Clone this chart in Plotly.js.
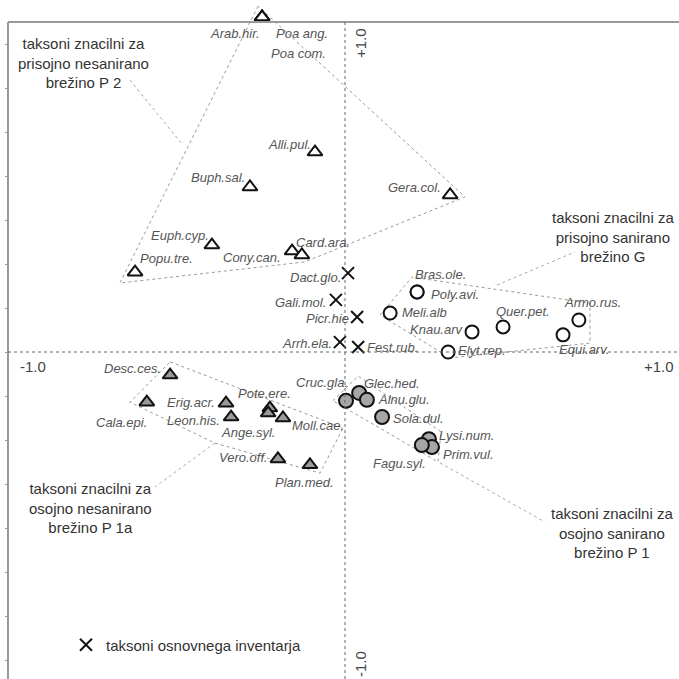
<!DOCTYPE html>
<html>
<head>
<meta charset="utf-8">
<script src="https://cdn.plot.ly/plotly-3.0.1.min.js"></script>
<style>html,body{margin:0;padding:0;background:#fff;}#chart{width:679px;height:679px;}</style>
</head>
<body>
<div id="chart"></div>
<script>
// ---- data: ordination scores (axis 1, axis 2) ----
const p2Names = ['Arab.hir.','Poa ang.','Poa com.','Alli.pul.','Buph.sal.','Gera.col.','Euph.cyp.','Cony.can.','Card.ara.','Popu.tre.'];
const p2X = [-0.246,-0.246,-0.246,-0.089,-0.282,0.312,-0.395,-0.157,-0.128,-0.623];
const p2Y = [1.015,1.015,1.015,0.606,0.500,0.476,0.324,0.306,0.294,0.242];

const baseNames = ['Dact.glo.','Gali.mol.','Picr.hie','Arrh.ela.','Fest.rub.'];
const baseX = [0.009,-0.027,0.036,-0.015,0.039];
const baseY = [0.239,0.158,0.106,0.030,0.015];

const gNames = ['Bras.ole.','Poly.avi.','Meli.alb','Knau.arv','Quer.pet.','Armo.rus.','Equi.arv.','Elyt.rep.'];
const gX = [0.214,0.214,0.134,0.377,0.469,0.694,0.647,0.306];
const gY = [0.182,0.182,0.118,0.061,0.076,0.097,0.052,0.000];

const p1Names = ['Glec.hed.','Alnu.glu.','Cruc.gla.','Sola.dul.','Lysi.num.','Prim.vul.','Fagu.syl.'];
const p1X = [0.042,0.065,0.003,0.110,0.249,0.258,0.228];
const p1Y = [-0.124,-0.145,-0.148,-0.197,-0.264,-0.288,-0.282];

const p1aNames = ['Desc.ces.','Cala.epi.','Erig.acr.','Leon.his.','Pote.ere.','Ange.syl.','Moll.cae.','Vero.off.','Plan.med.'];
const p1aX = [-0.519,-0.588,-0.353,-0.338,-0.223,-0.228,-0.184,-0.199,-0.104];
const p1aY = [-0.070,-0.152,-0.155,-0.197,-0.170,-0.185,-0.200,-0.324,-0.342];

// group envelopes (hand-drawn hulls)
const hullP2X = [-0.258,-0.668,-0.119,0.356,-0.258];
const hullP2Y = [1.048,0.209,0.273,0.470,1.048];
const hullGX = [0.104,0.199,0.727,0.727,0.312,0.104];
const hullGY = [0.112,0.227,0.148,0.027,-0.018,0.112];
const hullP1X = [-0.036,0.039,0.285,0.276,-0.036];
const hullP1Y = [-0.148,-0.073,-0.242,-0.333,-0.148];
const hullP1aX = [-0.519,-0.006,-0.074,-0.386,-0.638,-0.519];
const hullP1aY = [-0.030,-0.230,-0.367,-0.276,-0.152,-0.030];

// leader lines from envelopes to group captions
const leaderX = [[-0.638,-0.481],[0.451,0.682],[0.282,0.593],[-0.386,-0.564]];
const leaderY = [[0.824,0.627],[0.203,0.303],[-0.336,-0.515],[-0.276,-0.409]];

// captions
const capP2 = ['taksoni znacilni za','prisojno nesanirano','brežino P 2'];
const capG = ['taksoni znacilni za','prisojno sanirano','brežino G'];
const capP1 = ['taksoni znacilni za','osojno sanirano','brežino P 1'];
const capP1a = ['taksoni znacilni za','osojno nesanirano','brežino P 1a'];
const legendText = 'taksoni osnovnega inventarja';
const axisLabels = ['-1.0','+1.0'];

// ---- label placement (pixel offsets: dx right, dy down) ----
const labelOffsets = {
  'Arab.hir.':[-27,16],'Poa ang.':[40,16],'Poa com.':[36,36],'Alli.pul.':[-26,-8],'Buph.sal.':[-32,-10],
  'Gera.col.':[-36,-7],'Euph.cyp.':[-32,-10],'Cony.can.':[-40,6],'Card.ara.':[21,-12],'Popu.tre.':[31,-14],
  'Dact.glo.':[-33,4],'Gali.mol.':[-35,3],'Picr.hie':[-30,1],'Arrh.ela.':[-33,1],'Fest.rub.':[34,0],
  'Bras.ole.':[23,-17],'Poly.avi.':[38,3],'Meli.alb':[34,-1],'Knau.arv':[-35,-2],'Quer.pet.':[20,-15],
  'Armo.rus.':[14,-18],'Equi.arv.':[21,15],'Elyt.rep.':[34,-2],
  'Cruc.gla.':[-24,-18],'Glec.hed.':[33,-9],'Alnu.glu.':[37,0],'Sola.dul.':[36,1],'Lysi.num.':[38,-4],
  'Prim.vul.':[37,7],'Fagu.syl.':[-22,18],
  'Desc.ces.':[-38,-7],'Cala.epi.':[-25,20],'Erig.acr.':[-35,-1],'Leon.his.':[-38,3],'Pote.ere.':[-5,-15],
  'Ange.syl.':[-20,19],'Moll.cae.':[35,7],'Vero.off.':[-34,-1],'Plan.med.':[-5,18]
};

const XR = [-1.0237, 0.9911];
const YR = [-0.9909, 1.0667];
const FONT = 'Liberation Sans, Arial, sans-serif';

const traces = [];
function hull(x, y) {
  traces.push({x:x, y:y, type:'scatter', mode:'lines', showlegend:false, hoverinfo:'skip',
    line:{color:'#9a9a9a', width:1, dash:'dot'}});
}
hull(hullP2X, hullP2Y); hull(hullGX, hullGY); hull(hullP1X, hullP1Y); hull(hullP1aX, hullP1aY);
for (let i = 0; i < leaderX.length; i++) {
  traces.push({x:leaderX[i], y:leaderY[i], type:'scatter', mode:'lines', showlegend:false, hoverinfo:'skip',
    line:{color:'#aaaaaa', width:1, dash:'3px,3px'}});
}
function pts(x, y, symbol, size, fill, name, legend) {
  traces.push({x:x, y:y, type:'scatter', mode:'markers', name:name||'', showlegend:!!legend, cliponaxis:false,
    marker:{symbol:symbol, size:size, color:fill, line:{color:'#111', width:2}}});
}
pts(p2X, p2Y, 'triangle-up', 13, '#ffffff');
pts(p1aX, p1aY, 'triangle-up', 13, '#9a9a9a');
pts(gX, gY, 'circle', 13, '#ffffff');
pts(p1X, p1Y, 'circle', 14, '#a6a6a6');
pts(baseX, baseY, 'x-thin-open', 12, '#111', legendText, true);

const annotations = [];
function labels(names, xs, ys) {
  names.forEach((n, i) => {
    const o = labelOffsets[n] || [0, 0];
    annotations.push({x:xs[i], y:ys[i], xref:'x', yref:'y', text:'<i>'+n+'</i>', showarrow:false,
      xanchor:'center', yanchor:'middle', xshift:o[0], yshift:-o[1],
      font:{family:FONT, size:13, color:'#555'}});
  });
}
labels(p2Names, p2X, p2Y); labels(baseNames, baseX, baseY); labels(gNames, gX, gY);
labels(p1Names, p1X, p1Y); labels(p1aNames, p1aX, p1aY);

function caption(lines, px, py) {
  annotations.push({x:px/679, y:1-py/679, xref:'paper', yref:'paper', text:lines.join('<br>'), showarrow:false,
    xanchor:'center', yanchor:'top', align:'center', font:{family:FONT, size:15, color:'#333'}});
}
caption(capP2, 83, 33);
caption(capG, 613, 207);
caption(capP1, 612, 503);
caption(capP1a, 90, 478);

// axis end labels
annotations.push({x:33/679, y:1-366/679, xref:'paper', yref:'paper', text:axisLabels[0], showarrow:false,
  xanchor:'center', yanchor:'middle', font:{family:FONT, size:15, color:'#444'}});
annotations.push({x:659/679, y:1-366/679, xref:'paper', yref:'paper', text:axisLabels[1], showarrow:false,
  xanchor:'center', yanchor:'middle', font:{family:FONT, size:15, color:'#444'}});
annotations.push({x:360/679, y:1-43/679, xref:'paper', yref:'paper', text:axisLabels[1], showarrow:false, textangle:-90,
  xanchor:'center', yanchor:'middle', font:{family:FONT, size:15, color:'#444'}});
annotations.push({x:360/679, y:1-664/679, xref:'paper', yref:'paper', text:axisLabels[0], showarrow:false, textangle:-90,
  xanchor:'center', yanchor:'middle', font:{family:FONT, size:15, color:'#444'}});

const tickVals = [];
for (let k = -7; k <= 7; k++) tickVals.push(k * 2 / 15);

const shapes = [
  {type:'line', xref:'x', yref:'y', x0:-1, x1:-1, y0:YR[0], y1:1, line:{color:'#999', width:2}},
  {type:'line', xref:'x', yref:'y', x0:-1, x1:XR[1], y0:1, y1:1, line:{color:'#999', width:2}},
  {type:'line', xref:'x', yref:'y', x0:0, x1:0, y0:YR[0], y1:1, line:{color:'#666', width:1, dash:'dot'}},
  {type:'line', xref:'x', yref:'y', x0:-1, x1:XR[1], y0:0, y1:0, line:{color:'#666', width:1, dash:'dot'}}
];

const layout = {
  width:679, height:679, margin:{l:0, r:0, t:0, b:0},
  paper_bgcolor:'#fff', plot_bgcolor:'#fff',
  xaxis:{range:XR, domain:[0,1], visible:false, fixedrange:true},
  yaxis:{range:YR, domain:[0,1], anchor:'free', position:8/679, showgrid:false, zeroline:false, showline:false,
    ticks:'outside', ticklen:3, tickwidth:1, tickcolor:'#999', tickmode:'array', tickvals:tickVals,
    showticklabels:false, fixedrange:true},
  showlegend:true,
  legend:{x:66/679, y:1-645/679, xanchor:'left', yanchor:'middle', bgcolor:'rgba(0,0,0,0)',
    font:{family:FONT, size:15, color:'#333'}},
  shapes:shapes, annotations:annotations
};
Plotly.newPlot('chart', traces, layout, {displayModeBar:false, staticPlot:true});
</script>
</body>
</html>
